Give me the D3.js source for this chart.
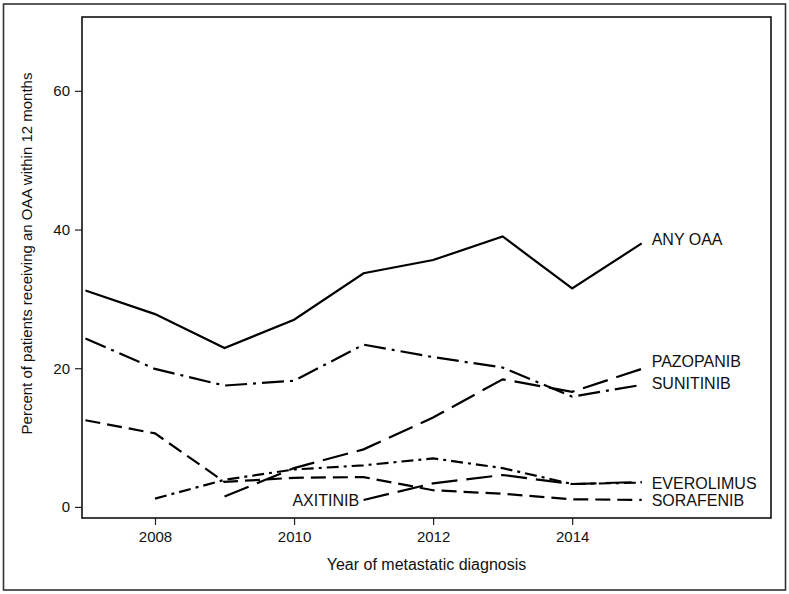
<!DOCTYPE html>
<html>
<head>
<meta charset="utf-8">
<script src="https://cdn.jsdelivr.net/npm/d3@7"></script>
<style>
  html, body { margin: 0; padding: 0; background: #fff; }
  svg { display: block; font-family: "Liberation Sans", Arial, sans-serif; }
</style>
</head>
<body>
<svg id="chart" width="789" height="594"></svg>
<script>
// ---- data ----
const years = [2007, 2008, 2009, 2010, 2011, 2012, 2013, 2014, 2015];
const anyOAA     = [31.2, 27.8, 22.9, 27.0, 33.7, 35.6, 39.0, 31.5, 38.0];
const sunitinib  = [24.3, 19.9, 17.5, 18.2, 23.4, 21.6, 20.1, 15.9, 17.6];
const pazopanib  = [null, null, 1.5, 5.6, 8.3, 12.9, 18.4, 16.6, 19.9];
const sorafenib  = [12.5, 10.6, 3.6, 4.2, 4.3, 2.4, 1.9, 1.1, 1.0];
const everolimus = [null, 1.2, 3.9, 5.4, 6.0, 7.0, 5.6, 3.3, 3.5];
const axitinib   = [null, null, null, null, 1.0, 3.4, 4.6, 3.3, 3.6];
const seriesNames = ["ANY OAA", "SUNITINIB", "PAZOPANIB", "SORAFENIB", "EVEROLIMUS", "AXITINIB"];
const seriesValues = [anyOAA, sunitinib, pazopanib, sorafenib, everolimus, axitinib];
const yTicks = [0, 20, 40, 60];
const xTicks = [2008, 2010, 2012, 2014];
const yTitle = "Percent of patients receiving an OAA within 12 months";
const xTitle = "Year of metastatic diagnosis";

// ---- styles ----
const dashes = {
  "ANY OAA": null,
  "SUNITINIB": "22,6,3,6",
  "PAZOPANIB": "26,9",
  "SORAFENIB": "15,7",
  "EVEROLIMUS": "12,5,3,5",
  "AXITINIB": "26,9"
};
// label anchor (data units): [year for x, value for vertical center, side]
const labelAnchors = {
  "ANY OAA":   [2015, 38.6, "end"],
  "PAZOPANIB": [2015, 20.95, "end"],
  "SUNITINIB": [2015, 17.8, "end"],
  "EVEROLIMUS":[2015, 3.4, "end"],
  "SORAFENIB": [2015, 1.0, "end"],
  "AXITINIB":  [2011, 1.0, "start"]
};

const svg = d3.select("#chart");
const plot = { left: 82, right: 771, top: 17, bottom: 518 };

const x = d3.scaleLinear().domain([2006.95, 2016.86]).range([plot.left, plot.right]);
const y = d3.scaleLinear().domain([-1.6, 70.65]).range([plot.bottom, plot.top]);

// outer frame
svg.append("rect").attr("x", 3.5).attr("y", 4).attr("width", 782).attr("height", 586)
  .attr("fill", "none").attr("stroke", "#333").attr("stroke-width", 1.6);

// axes
const yAxis = d3.axisLeft(y).tickValues(yTicks).tickSize(7).tickPadding(5).tickFormat(d3.format("d"));
const xAxis = d3.axisBottom(x).tickValues(xTicks).tickSize(7).tickPadding(6).tickFormat(d3.format("d"));

const gy = svg.append("g").attr("transform", `translate(${plot.left},0)`).call(yAxis);
const gx = svg.append("g").attr("transform", `translate(0,${plot.bottom})`).call(xAxis);
[gx, gy].forEach(g => {
  g.select(".domain").remove();
  g.selectAll(".tick line").attr("stroke", "#222").attr("stroke-width", 1.2);
  g.selectAll(".tick text").attr("fill", "#111").style("font-size", "15px")
    .style("font-family", '"Liberation Sans", Arial, sans-serif');
});

// plot frame
svg.append("rect").attr("x", plot.left).attr("y", plot.top)
  .attr("width", plot.right - plot.left).attr("height", plot.bottom - plot.top)
  .attr("fill", "none").attr("stroke", "#111").attr("stroke-width", 1.6);

// lines
const line = d3.line()
  .defined(d => d.v !== null)
  .x(d => x(d.year))
  .y(d => y(d.v));

seriesNames.forEach((name, i) => {
  const pts = years.map((yr, j) => ({ year: yr, v: seriesValues[i][j] }));
  svg.append("path")
    .datum(pts)
    .attr("d", line)
    .attr("fill", "none")
    .attr("stroke", "#000")
    .attr("stroke-width", 2.2)
    .attr("stroke-linejoin", "miter")
    .attr("stroke-dasharray", dashes[name]);
});

// labels
seriesNames.forEach(name => {
  const [yr, v, side] = labelAnchors[name];
  const isEnd = side === "end";
  svg.append("text")
    .attr("x", isEnd ? x(yr) + 10 : x(yr) - 4.5)
    .attr("y", y(v))
    .attr("dy", "0.36em")
    .attr("text-anchor", isEnd ? "start" : "end")
    .style("font-size", "16px")
    .attr("fill", "#111")
    .text(name);
});

// axis titles
svg.append("text")
  .attr("x", (plot.left + plot.right) / 2)
  .attr("y", 570)
  .attr("text-anchor", "middle")
  .style("font-size", "16px")
  .attr("fill", "#111")
  .text(xTitle);

svg.append("text")
  .attr("transform", `translate(32,${(plot.top + plot.bottom) / 2 - 14}) rotate(-90)`)
  .attr("text-anchor", "middle")
  .style("font-size", "15px")
  .attr("fill", "#111")
  .text(yTitle);
</script>
</body>
</html>
